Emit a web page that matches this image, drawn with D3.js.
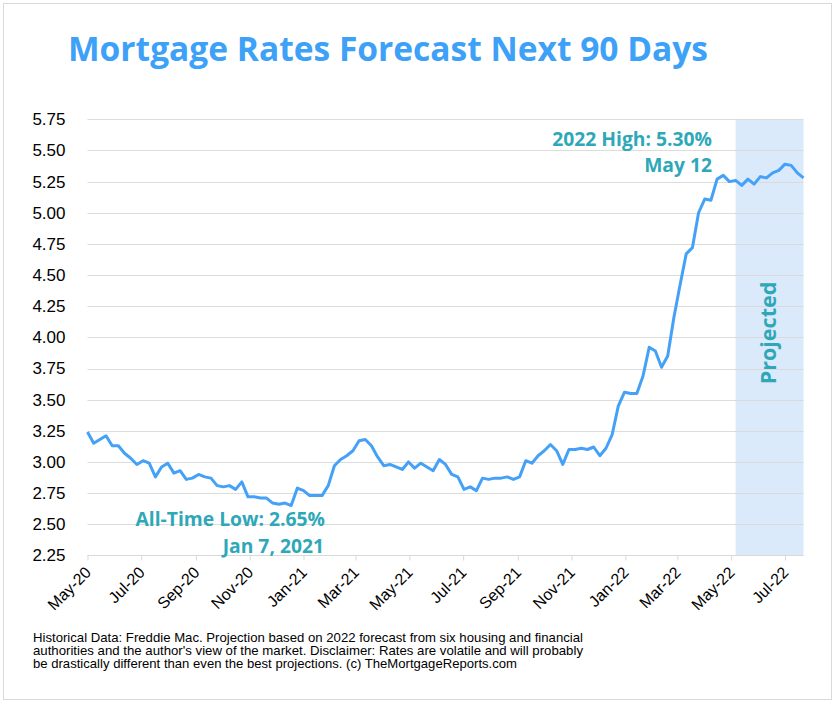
<!DOCTYPE html>
<html><head><meta charset="utf-8">
<script src="https://cdn.jsdelivr.net/npm/d3@7"></script>
<style>body{margin:0;background:#fff}svg{display:block}</style>
</head><body><svg id="c" width="836" height="703"></svg>
<script>
// ---- data ----
const weekDates = [
"2020-05-21","2020-05-28","2020-06-04","2020-06-11","2020-06-18","2020-06-25","2020-07-02","2020-07-09","2020-07-16","2020-07-23","2020-07-30",
"2020-08-06","2020-08-13","2020-08-20","2020-08-27","2020-09-03","2020-09-10","2020-09-17","2020-09-24","2020-10-01","2020-10-08","2020-10-15",
"2020-10-22","2020-10-29","2020-11-05","2020-11-12","2020-11-19","2020-11-26","2020-12-03","2020-12-10","2020-12-17","2020-12-24","2020-12-31",
"2021-01-07","2021-01-14","2021-01-21","2021-01-28","2021-02-04","2021-02-11","2021-02-18","2021-02-25","2021-03-04","2021-03-11","2021-03-18",
"2021-03-25","2021-04-01","2021-04-08","2021-04-15","2021-04-22","2021-04-29","2021-05-06","2021-05-13","2021-05-20","2021-05-27","2021-06-03",
"2021-06-10","2021-06-17","2021-06-24","2021-07-01","2021-07-08","2021-07-15","2021-07-22","2021-07-29","2021-08-05","2021-08-12","2021-08-19",
"2021-08-26","2021-09-02","2021-09-09","2021-09-16","2021-09-23","2021-09-30","2021-10-07","2021-10-14","2021-10-21","2021-10-28","2021-11-04",
"2021-11-11","2021-11-18","2021-11-25","2021-12-02","2021-12-09","2021-12-16","2021-12-23","2021-12-30",
"2022-01-06","2022-01-13","2022-01-20","2022-01-27","2022-02-03","2022-02-10","2022-02-17","2022-02-24","2022-03-03","2022-03-10","2022-03-17",
"2022-03-24","2022-03-31","2022-04-07","2022-04-14","2022-04-21","2022-04-28","2022-05-05","2022-05-12","2022-05-19","2022-05-26","2022-06-02",
"2022-06-09","2022-06-16","2022-06-23","2022-06-30","2022-07-07","2022-07-14","2022-07-21","2022-07-28","2022-08-04","2022-08-11"];
const rates = [
3.24,3.15,3.18,3.21,3.13,3.13,3.07,3.03,2.98,3.01,2.99,
2.88,2.96,2.99,2.91,2.93,2.86,2.87,2.90,2.88,2.87,2.81,
2.80,2.81,2.78,2.84,2.72,2.72,2.71,2.71,2.67,2.66,2.67,
2.65,2.79,2.77,2.73,2.73,2.73,2.81,2.97,3.02,3.05,3.09,
3.17,3.18,3.13,3.04,2.97,2.98,2.96,2.94,3.00,2.95,2.99,
2.96,2.93,3.02,2.98,2.90,2.88,2.78,2.80,2.77,2.87,2.86,
2.87,2.87,2.88,2.86,2.88,3.01,2.99,3.05,3.09,3.14,3.09,
2.98,3.10,3.10,3.11,3.10,3.12,3.05,3.11,
3.22,3.45,3.56,3.55,3.55,3.69,3.92,3.89,3.76,3.85,4.16,
4.42,4.67,4.72,5.00,5.11,5.10,5.27,5.30,5.25,5.26,5.22,
5.27,5.23,5.29,5.28,5.32,5.34,5.39,5.38,5.32,5.28];
const projectionStart = "2022-05-26";
const yTicks = [2.25,2.50,2.75,3.00,3.25,3.50,3.75,4.00,4.25,4.50,4.75,5.00,5.25,5.50,5.75];
const xTickDates = ["2020-05-21","2020-07-21","2020-09-21","2020-11-21","2021-01-21","2021-03-21","2021-05-21",
"2021-07-21","2021-09-21","2021-11-21","2022-01-21","2022-03-21","2022-05-21","2022-07-21"];
const xTickLabels = ["May-20","Jul-20","Sep-20","Nov-20","Jan-21","Mar-21","May-21","Jul-21","Sep-21","Nov-21","Jan-22","Mar-22","May-22","Jul-22"];
const titleText = "Mortgage Rates Forecast Next 90 Days";
const footerLines = [
"Historical Data: Freddie Mac. Projection based on 2022 forecast from six housing and financial",
"authorities and the author's view of the market. Disclaimer: Rates are volatile and will probably",
"be drastically different than even the best projections. (c) TheMortgageReports.com"];

// ---- drawing ----
const parse = d3.timeParse("%Y-%m-%d");
const pts = weekDates.map((d,i)=>({date:parse(d), v:rates[i]}));
const svg = d3.select("#c");
const L = 87.5, R = 803.5, T = 119.3, B = 555.4;
const x = d3.scaleTime().domain([parse(weekDates[0]), parse(weekDates[weekDates.length-1])]).range([L, R]);
const y = d3.scaleLinear().domain([2.25, 5.75]).range([B, T]);

svg.append("rect").attr("x",3.5).attr("y",3.5).attr("width",828).attr("height",696)
  .attr("fill","#fff").attr("stroke","#d9d9d9").attr("stroke-width",1);

svg.append("text").attr("x",68).attr("y",61).text(titleText)
  .attr("font-family","'Open Sans'").attr("font-weight",700).attr("font-size",34)
  .attr("fill","#3EA1F8").attr("textLength",640).attr("lengthAdjust","spacingAndGlyphs");

// projected band
svg.append("rect").attr("x", x(parse(projectionStart))).attr("y", T)
  .attr("width", R - x(parse(projectionStart))).attr("height", B - T).attr("fill","#DAEAFB");

// gridlines
svg.append("g").selectAll("line").data(yTicks).join("line")
  .attr("x1",L).attr("x2",R).attr("y1",d=>Math.round(y(d))+0.5).attr("y2",d=>Math.round(y(d))+0.5)
  .attr("stroke","#d9d9d9").attr("stroke-width",1.2).attr("opacity",0.9);

// y axis labels
const yAxis = d3.axisLeft(y).tickValues(yTicks).tickSize(0).tickPadding(22).tickFormat(d3.format(".2f"));
const gy = svg.append("g").attr("transform",`translate(${L},0)`).call(yAxis);
gy.select(".domain").remove();
gy.selectAll("text").attr("font-family","'Liberation Sans', Arial, sans-serif").attr("font-size",17).attr("fill","#000");

// x axis
const xAxis = d3.axisBottom(x).tickValues(xTickDates.map(parse)).tickSize(5).tickPadding(3)
  .tickFormat((d,i)=>xTickLabels[i]);
const gx = svg.append("g").attr("transform",`translate(0,${Math.round(B)+0.5})`).call(xAxis);
gx.select(".domain").attr("stroke","#d9d9d9").attr("d",`M${L},0H${R}`);
gx.selectAll(".tick line").attr("stroke","#d9d9d9");
gx.selectAll("text").attr("font-family","'Liberation Sans', Arial, sans-serif").attr("font-size",16).attr("fill","#000")
  .attr("text-anchor","end").attr("dy",0).attr("y",0)
  .attr("transform","translate(4,18) rotate(-45)");

// line
const line = d3.line().x(d=>x(d.date)).y(d=>y(d.v));
svg.append("path").datum(pts).attr("d",line).attr("fill","none")
  .attr("stroke","#45A1F7").attr("stroke-width",3).attr("stroke-linejoin","round");

// annotations
const ann = [
  {t:"2022 High: 5.30%", x:712, y:146},
  {t:"May 12", x:712, y:172},
  {t:"All-Time Low: 2.65%", x:325, y:525.5},
  {t:"Jan 7, 2021", x:324, y:552.5}];
svg.append("g").selectAll("text").data(ann).join("text")
  .attr("x",d=>d.x).attr("y",d=>d.y).attr("text-anchor","end").text(d=>d.t)
  .attr("font-family","'Open Sans'").attr("font-weight",700).attr("font-size",19.3).attr("fill","#2EA8B9");

svg.append("text").attr("transform","translate(776,333) rotate(-90)").attr("text-anchor","middle")
  .text("Projected").attr("font-family","'Open Sans'").attr("font-weight",700).attr("font-size",21.5).attr("fill","#2EA8B9");

// footer
const footerWidths = [550, 550, 484];
svg.append("g").selectAll("text").data(footerLines).join("text")
  .attr("x",33).attr("y",(d,i)=>641.5+i*13.4).text(d=>d)
  .attr("textLength",(d,i)=>footerWidths[i]).attr("lengthAdjust","spacingAndGlyphs")
  .attr("font-family","'Liberation Sans', Arial, sans-serif").attr("font-size",12.6).attr("fill","#000");
</script></body></html>
